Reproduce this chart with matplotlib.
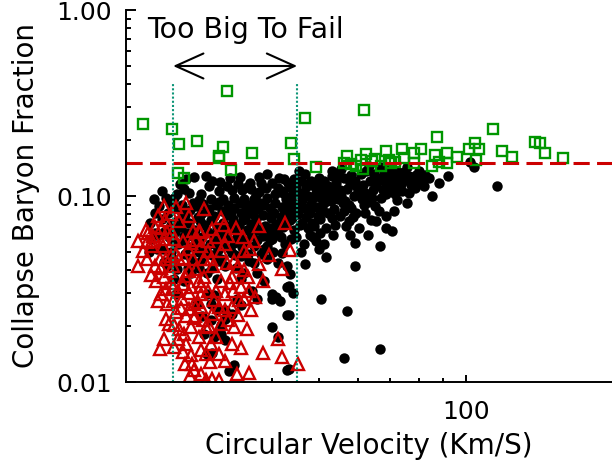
import matplotlib
matplotlib.use("Agg")
import matplotlib.pyplot as plt
from matplotlib.ticker import FixedLocator, NullFormatter
import numpy as np

# cosmic baryon fraction and the "too big to fail" velocity window
f_cosmic = 0.15
tbtf_range = [25.0, 45.0]
tbtf_top = 0.40
arrow_f = 0.50

# collapsed haloes (black dots): (circular velocity, baryon fraction)
black_pts = [
    # upper band
    (23.7, 0.106), (25.1, 0.0975), (25.8, 0.116), (26.3, 0.109), (26.6, 0.124), (27.6, 0.126),
    (28.3, 0.095), (28.6, 0.103), (29.7, 0.113), (29.9, 0.096), (31.6, 0.096), (32.2, 0.113),
    (33.4, 0.098), (34.4, 0.127), (34.7, 0.108), (35.0, 0.096), (36.2, 0.109), (36.7, 0.096),
    (37.6, 0.126), (37.9, 0.118), (37.6, 0.105), (39.1, 0.132), (39.1, 0.098), (41.0, 0.110),
    (41.8, 0.106), (42.3, 0.124), (43.4, 0.112), (43.8, 0.100), (45.3, 0.137), (46.8, 0.132),
    (47.5, 0.118), (45.9, 0.121), (48.1, 0.121), (49.8, 0.125), (51.0, 0.121), (50.5, 0.116),
    (53.0, 0.128), (53.0, 0.137), (54.7, 0.128), (55.5, 0.140), (56.1, 0.125), (58.2, 0.130),
    (59.3, 0.121), (59.6, 0.113), (60.8, 0.132), (62.5, 0.137), (63.1, 0.145), (64.9, 0.132),
    (67.1, 0.144), (69.4, 0.142), (69.4, 0.121), (68.7, 0.113), (70.7, 0.135), (72.4, 0.134),
    (74.5, 0.134), (75.9, 0.143), (70.4, 0.124), (55.5, 0.100), (55.8, 0.092), (57.4, 0.090),
    (53.0, 0.103), (61.1, 0.096), (61.8, 0.089), (59.6, 0.081), (64.0, 0.098), (67.1, 0.098),
    (68.4, 0.103), (71.4, 0.103), (72.1, 0.095), (75.9, 0.092), (76.6, 0.104), (85.1, 0.100),
    (68.4, 0.078), (63.7, 0.074), (53.0, 0.076), (57.4, 0.073), (60.2, 0.067), (68.4, 0.067),
    (51.7, 0.067), (101.9, 0.153), (103.9, 0.144), (115.9, 0.113), (22.8, 0.096), (42.1, 0.104),
    (44.4, 0.124), (49.3, 0.104), (52.2, 0.113), (54.2, 0.109), (56.9, 0.109), (65.5, 0.113),
    (73.6, 0.116), (78.1, 0.124), (80.0, 0.137), (81.9, 0.113), (66.2, 0.083), (71.1, 0.083),
    (56.1, 0.083), (39.9, 0.118), (41.2, 0.125), (43.0, 0.117), (44.8, 0.110), (46.2, 0.104),
    (47.0, 0.112), (48.6, 0.097), (50.0, 0.108), (51.5, 0.100), (52.8, 0.094), (54.0, 0.118),
    (55.2, 0.108), (57.8, 0.118), (58.8, 0.100), (61.5, 0.115), (63.5, 0.120), (64.5, 0.108),
    (66.8, 0.125), (68.0, 0.135), (71.8, 0.116), (73.0, 0.126), (77.2, 0.115), (79.0, 0.130),
    (36.0, 0.118), (34.0, 0.116), (31.0, 0.106), (30.0, 0.120), (32.8, 0.125), (27.0, 0.104),
    (25.5, 0.103), (24.2, 0.098),
    (29.2, 0.128), (31.2, 0.119), (33.0, 0.108), (35.5, 0.112), (37.0, 0.101), (38.8, 0.110),
    (40.5, 0.102), (42.6, 0.096), (44.0, 0.093), (45.0, 0.104), (46.0, 0.095), (47.3, 0.100),
    (48.8, 0.113), (50.3, 0.098), (51.8, 0.110), (53.5, 0.085), (54.5, 0.096), (56.5, 0.094),
    (58.0, 0.086), (60.0, 0.105), (62.2, 0.104), (63.0, 0.093), (65.0, 0.088), (66.0, 0.120),
    (67.5, 0.108), (69.8, 0.128), (71.0, 0.110), (74.0, 0.106), (75.0, 0.122), (76.5, 0.128),
    (78.5, 0.110), (80.8, 0.120), (82.5, 0.130), (84.0, 0.125), (88.0, 0.118), (92.0, 0.128),
    # dense middle
    (23.4, 0.088), (23.7, 0.075), (23.3, 0.062), (23.8, 0.052),
    (24.6, 0.092), (24.4, 0.081), (24.8, 0.070), (24.5, 0.060), (24.7, 0.050),
    (25.3, 0.086), (25.5, 0.073), (25.2, 0.064), (25.6, 0.055),
    (26.1, 0.090), (26.4, 0.079), (26.0, 0.068), (26.3, 0.058), (26.5, 0.049),
    (27.1, 0.084), (26.9, 0.072), (27.3, 0.061), (27.0, 0.053), (27.2, 0.046),
    (27.9, 0.088), (28.1, 0.077), (27.7, 0.066), (28.0, 0.056), (28.2, 0.050),
    (28.8, 0.091), (28.6, 0.080), (29.0, 0.070), (28.7, 0.060), (28.9, 0.052), (28.5, 0.045),
    (29.7, 0.085), (29.9, 0.074), (29.5, 0.064), (29.8, 0.055), (30.0, 0.048),
    (30.6, 0.089), (30.4, 0.078), (30.8, 0.068), (30.5, 0.059), (30.9, 0.051),
    (31.5, 0.083), (31.7, 0.072), (31.3, 0.062), (31.6, 0.054), (31.4, 0.046),
    (32.4, 0.090), (32.2, 0.079), (32.6, 0.069), (32.3, 0.060), (32.7, 0.052),
    (33.4, 0.086), (33.2, 0.075), (33.6, 0.065), (33.3, 0.056), (33.5, 0.048),
    (34.3, 0.092), (34.5, 0.081), (34.1, 0.070), (34.4, 0.061), (34.6, 0.053),
    (35.3, 0.087), (35.1, 0.076), (35.5, 0.066), (35.2, 0.057), (35.6, 0.049),
    (36.3, 0.091), (36.5, 0.080), (36.1, 0.071), (36.4, 0.062), (36.6, 0.054),
    (37.3, 0.085), (37.1, 0.075), (37.5, 0.066), (37.2, 0.058),
    (38.4, 0.090), (38.2, 0.079), (38.6, 0.069), (38.3, 0.061), (38.5, 0.052),
    (39.5, 0.086), (39.7, 0.076), (39.3, 0.067), (39.6, 0.058),
    (40.6, 0.092), (40.4, 0.081), (40.8, 0.071), (40.5, 0.063),
    (41.8, 0.087), (41.6, 0.077), (42.0, 0.068), (41.7, 0.060),
    (42.9, 0.091), (43.1, 0.080), (42.7, 0.071),
    (44.1, 0.085), (43.9, 0.076), (44.3, 0.066),
    (45.4, 0.090), (45.2, 0.080), (45.6, 0.070),
    (46.7, 0.086), (46.9, 0.077),
    (48.0, 0.091), (47.8, 0.081), (48.2, 0.072),
    (49.4, 0.087), (49.6, 0.078),
    (51.0, 0.092), (50.8, 0.083),
    (24.0, 0.064), (24.9, 0.057), (25.9, 0.083), (26.7, 0.063), (27.5, 0.092), (28.4, 0.073),
    (29.3, 0.083), (30.2, 0.062), (31.0, 0.093), (31.9, 0.066), (32.9, 0.082), (33.8, 0.060),
    (34.8, 0.074), (35.8, 0.083), (36.8, 0.068), (37.8, 0.092), (38.9, 0.064), (39.9, 0.081),
    (41.1, 0.066), (42.3, 0.084), (43.5, 0.074), (44.7, 0.080), (46.0, 0.072), (47.3, 0.067),
    (48.8, 0.069), (50.2, 0.075), (52.0, 0.081), (53.8, 0.070), (55.0, 0.078), (56.8, 0.069),
    (58.5, 0.077), (62.0, 0.081), (65.5, 0.073), (23.0, 0.081), (22.4, 0.072), (22.3, 0.050),
    (23.9, 0.044), (25.0, 0.046), (26.8, 0.041), (28.2, 0.041), (30.0, 0.041), (31.1, 0.045),
    (33.6, 0.041), (35.8, 0.045), (38.0, 0.049), (40.2, 0.050), (42.5, 0.055), (44.8, 0.060),
    (46.4, 0.055), (48.5, 0.060),
    # lower part
    (34.5, 0.0356), (35.0, 0.0384), (36.7, 0.0434), (41.0, 0.0434), (42.9, 0.0418), (41.8, 0.0491),
    (39.1, 0.0537), (34.5, 0.0474), (31.9, 0.0418), (30.8, 0.0356), (29.4, 0.0384), (27.2, 0.0384),
    (26.3, 0.0347), (25.1, 0.0356), (25.5, 0.0403), (24.3, 0.0418), (29.4, 0.0491), (30.8, 0.0537),
    (31.9, 0.0631), (36.2, 0.0631), (40.0, 0.0585), (43.8, 0.0585), (35.0, 0.0557), (33.0, 0.0491),
    (39.1, 0.0457), (22.9, 0.0631), (22.5, 0.0585), (23.2, 0.0517), (26.3, 0.0608), (27.6, 0.0537),
    (37.2, 0.0384), (38.5, 0.0347), (40.0, 0.0299), (42.9, 0.0326), (36.4, 0.0307), (37.2, 0.0281),
    (40.0, 0.0281), (40.8, 0.0288), (41.4, 0.0271), (42.9, 0.0229), (33.9, 0.0281), (34.5, 0.0259),
    (40.0, 0.0198), (41.0, 0.0175), (25.4, 0.0299), (31.9, 0.0219), (33.0, 0.0233), (30.8, 0.0245),
    (29.9, 0.0264), (30.4, 0.0295), (29.4, 0.0299), (29.0, 0.0182), (29.9, 0.0216), (30.4, 0.0175),
    (31.9, 0.0168), (28.7, 0.0225), (28.0, 0.0264), (31.9, 0.0245), (31.3, 0.0182), (31.4, 0.0203),
    (29.4, 0.0142), (30.1, 0.0143), (33.4, 0.0123), (32.6, 0.0115), (42.9, 0.0116),
    # sparse right
    (47.9, 0.062), (50.2, 0.063), (53.4, 0.062), (57.9, 0.062), (62.8, 0.062), (70.4, 0.065),
    (49.1, 0.057), (51.0, 0.055), (49.8, 0.052), (45.9, 0.050), (46.8, 0.043), (51.7, 0.047),
    (59.3, 0.056), (66.5, 0.054), (59.3, 0.042), (50.5, 0.028), (57.1, 0.024), (66.5, 0.015),
    (56.1, 0.0134), (44.2, 0.030), (43.2, 0.023), (43.6, 0.038), (43.2, 0.033), (43.2, 0.0118),
]

# red open triangles
red_pts = [
    (22.1, 0.0564), (22.6, 0.0571), (22.1, 0.0457), (22.5, 0.0374), (23.5, 0.0457), (24.2, 0.0457),
    (24.8, 0.0474), (25.7, 0.0457), (26.3, 0.0462), (24.0, 0.0369), (23.1, 0.0347), (23.6, 0.0299),
    (24.3, 0.0264), (24.2, 0.0219), (24.5, 0.0206), (25.1, 0.0203), (25.7, 0.0193), (26.3, 0.0182),
    (23.5, 0.0151), (25.1, 0.0155), (26.6, 0.0161), (27.2, 0.0140), (27.4, 0.0125), (27.6, 0.0116),
    (28.6, 0.0110), (29.2, 0.0103), (30.1, 0.0104), (31.1, 0.0102), (28.6, 0.0149), (29.2, 0.0142),
    (29.9, 0.0161), (31.1, 0.0142), (31.9, 0.0130), (33.0, 0.0161), (34.5, 0.0153), (33.9, 0.0111),
    (35.9, 0.0112), (38.3, 0.0143), (41.8, 0.0136), (41.0, 0.0171), (35.4, 0.0193), (33.4, 0.0198),
    (31.3, 0.0206), (30.1, 0.0233), (28.6, 0.0254), (33.0, 0.0254), (34.2, 0.0277), (36.2, 0.0245),
    (35.9, 0.0307), (36.9, 0.0288), (37.6, 0.0429), (39.3, 0.0480), (41.9, 0.0403), (43.6, 0.0511),
    (31.3, 0.0504), (28.4, 0.0639), (30.1, 0.0663), (24.3, 0.0639), (23.6, 0.0672), (22.6, 0.0537),
    (25.1, 0.0585), (27.2, 0.0557), (28.6, 0.0537), (29.9, 0.0457), (29.0, 0.0369), (27.2, 0.0326),
    (26.1, 0.0281), (27.6, 0.0264), (29.2, 0.0198), (27.2, 0.0198), (25.4, 0.0239), (26.6, 0.0225),
    (28.6, 0.0299), (30.4, 0.0277), (31.9, 0.0245), (31.3, 0.0347), (33.0, 0.0369), (34.5, 0.0326),
    (31.9, 0.0299), (24.0, 0.0883), (24.8, 0.0800), (26.6, 0.0917), (28.2, 0.0647), (31.3, 0.0761),
    (33.7, 0.0672), (42.5, 0.0715), (45.1, 0.0125), (21.7, 0.0504), (21.2, 0.0418), (23.0, 0.0418),
    (25.0, 0.0418), (26.2, 0.0338), (27.9, 0.0403), (29.5, 0.0571), (32.5, 0.0608), (34.9, 0.0504),
    (36.6, 0.0571), (37.6, 0.0688), (34.0, 0.0418), (27.5, 0.0457), (25.6, 0.0307), (22.2, 0.0631),
    (23.3, 0.0780), (25.7, 0.0733), (30.2, 0.0418), (32.2, 0.0434), (24.2, 0.0315), (28.8, 0.0216),
    (30.7, 0.0175), (32.5, 0.0216), (26.9, 0.0248), (25.0, 0.0271), (28.2, 0.0175), (29.8, 0.0128),
    (26.2, 0.0145), (22.7, 0.0608), (23.8, 0.0537), (24.6, 0.0393), (26.9, 0.0393), (28.2, 0.0347),
    (29.5, 0.0307), (26.2, 0.0571), (27.5, 0.0647), (25.0, 0.0326), (23.3, 0.0271), (27.7, 0.0225),
    (31.0, 0.0254), (33.2, 0.0307), (35.7, 0.0369), (38.3, 0.0347), (21.2, 0.0571), (25.4, 0.0490),
    (29.5, 0.0504),
    (22.9, 0.068), (23.9, 0.059), (24.9, 0.063), (26.8, 0.052), (27.9, 0.058), (28.9, 0.046),
    (30.7, 0.060), (32.0, 0.055), (33.3, 0.045), (35.0, 0.040), (24.1, 0.074), (25.3, 0.087),
    (27.0, 0.078), (29.0, 0.085), (31.8, 0.070), (34.8, 0.060), (36.0, 0.052), (24.7, 0.034),
    (26.5, 0.037), (28.5, 0.033), (22.0, 0.066), (23.6, 0.041), (26.0, 0.025), (27.0, 0.030),
    (28.1, 0.027), (30.6, 0.031), (32.8, 0.034), (34.0, 0.023), (35.0, 0.028), (24.0, 0.017),
    (25.6, 0.017), (27.6, 0.022), (29.6, 0.020), (26.4, 0.0125), (27.1, 0.0108),
]

# green open squares
green_pts = [
    (21.7, 0.245), (24.9, 0.230), (32.3, 0.365), (25.7, 0.190), (28.0, 0.198), (31.7, 0.184),
    (31.0, 0.164), (31.1, 0.160), (36.4, 0.170), (32.9, 0.138), (25.6, 0.133), (26.3, 0.125),
    (43.8, 0.193), (44.4, 0.158), (46.6, 0.264), (61.9, 0.290), (49.3, 0.143), (57.1, 0.164),
    (58.2, 0.148), (59.6, 0.145), (60.8, 0.157), (62.5, 0.168), (64.0, 0.155), (65.2, 0.158),
    (68.4, 0.175), (69.4, 0.157), (70.1, 0.151), (71.7, 0.153), (73.8, 0.180), (74.5, 0.160),
    (78.1, 0.171), (78.1, 0.151), (81.1, 0.180), (86.3, 0.166), (87.2, 0.208), (85.1, 0.145),
    (88.0, 0.153), (91.4, 0.171), (91.4, 0.151), (95.8, 0.162), (101.4, 0.178), (104.4, 0.193),
    (106.4, 0.178), (104.9, 0.157), (113.7, 0.230), (118.6, 0.175), (124.4, 0.162), (138.8, 0.195),
    (142.1, 0.193), (145.5, 0.170), (158.6, 0.160), (56.1, 0.151), (67.1, 0.145), (61.5, 0.139),
]

x_minor = [40, 50, 60, 70, 80, 90]
y_major = [0.01, 0.1, 1.0]
y_labels = ["0.01", "0.10", "1.00"]

bv, bf = np.array(black_pts).T
rv, rf = np.array(red_pts).T
gv, gf = np.array(green_pts).T

fig = plt.figure(figsize=(6.12, 4.68), dpi=100)
ax = fig.add_axes([126/612, 86/468, 486/612, 372/468])

ax.plot(bv, bf, 'o', color='black', ms=7.5, mew=0)
ax.plot(rv, rf, '^', mfc='none', mec='#cc0000', ms=9, mew=1.7)
ax.plot(gv, gf, 's', mfc='none', mec='#009600', ms=7.5, mew=1.7)

ax.axhline(f_cosmic, color='#cc0000', lw=2.2, dashes=(5.3, 2.4))
for v in tbtf_range:
    ax.plot([v, v], [0.01, tbtf_top], color='#0e9678', lw=1.5, dashes=(1, 1))

ax.annotate('', xy=(tbtf_range[0], arrow_f), xytext=(tbtf_range[1], arrow_f),
            arrowprops=dict(arrowstyle='<->,head_length=1.0,head_width=0.45',
                            lw=1.5, color='black', shrinkA=0, shrinkB=0,
                            mutation_scale=20))
ax.text(35.3, 0.78, 'Too Big To Fail', ha='center', va='center', fontsize=20.5)

ax.set_xscale('log')
ax.set_yscale('log')
ax.set_xlim(20, 200)
ax.set_ylim(0.01, 1.0)

ax.xaxis.set_major_locator(FixedLocator([100]))
ax.xaxis.set_minor_locator(FixedLocator(x_minor))
ax.set_xticklabels(['100'])
ax.xaxis.set_minor_formatter(NullFormatter())
ax.yaxis.set_major_locator(FixedLocator(y_major))
ax.set_yticklabels(y_labels)
ax.yaxis.set_minor_formatter(NullFormatter())

ax.tick_params(which='both', direction='in', width=1.4, labelsize=18, top=False, right=False)
ax.tick_params(axis='y', which='major', length=7, pad=10)
ax.tick_params(axis='y', which='minor', length=3.6)
ax.tick_params(axis='x', which='major', length=5, pad=13)
ax.tick_params(axis='x', which='minor', length=3)

ax.spines['top'].set_visible(False)
ax.spines['right'].set_visible(False)
ax.spines['left'].set_linewidth(1.4)
ax.spines['bottom'].set_linewidth(1.4)

ax.set_xlabel('Circular Velocity (Km/S)', fontsize=20, labelpad=6)
ax.set_ylabel('Collapse Baryon Fraction', fontsize=20, labelpad=12)

fig.savefig('out.png', dpi=100)
